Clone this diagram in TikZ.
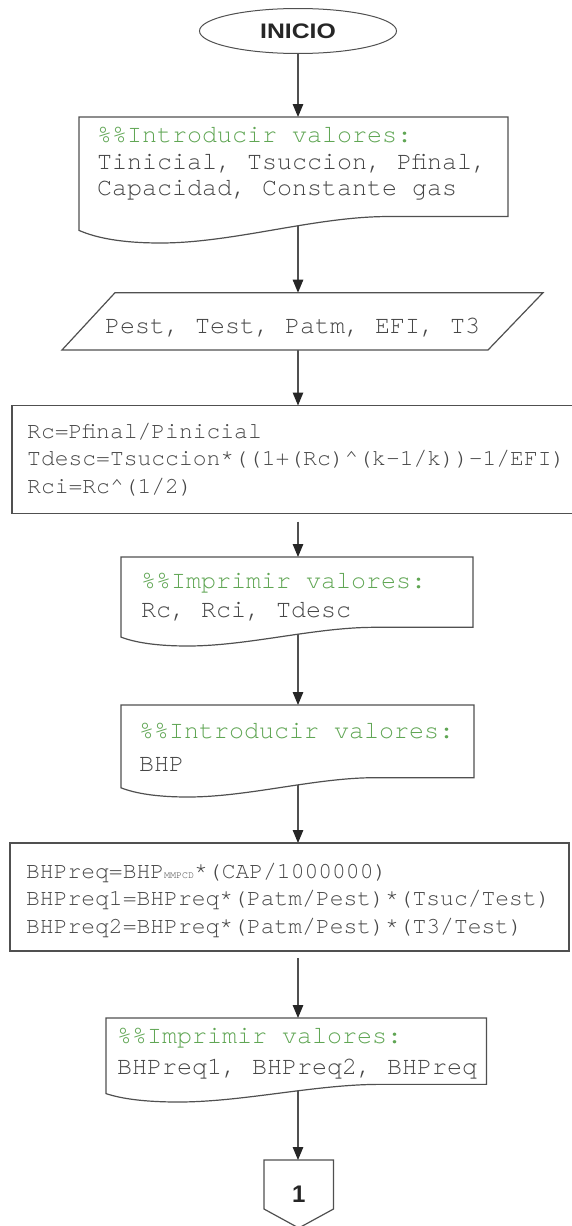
\documentclass[tikz,border=0pt]{standalone}
\usepackage{fontspec}
\usepackage{graphicx}
\setmonofont{TeX Gyre Cursor}
\newfontfamily\headsans{Liberation Sans}
\usetikzlibrary{arrows.meta,calc,shapes.geometric}

\pgfdeclarelayer{links}
\pgfdeclarelayer{frames}
\pgfsetlayers{links,frames,main}

\definecolor{ink}{RGB}{80,80,80}
\definecolor{code}{RGB}{70,70,70}
\definecolor{remark}{RGB}{96,166,84}

\tikzset{
  region/.style={inner sep=0pt, outer sep=0pt, draw=none},
  outline/.style={draw=ink, line width=1.2pt, fill=white, line join=miter},
  bigcode/.style={font=\fontsize{25}{28}\selectfont\ttfamily, text=code,
                  inner sep=0pt, anchor=base west},
  smallcode/.style={font=\fontsize{23}{27}\selectfont\ttfamily, text=code,
                    inner sep=0pt, anchor=base west},
  remarkline/.style={bigcode, text=remark},
  link/.style={draw=ink, line width=1.2pt,
               -{Triangle[length=13pt,width=10.5pt,color=black!85]}},
}

% Document symbol: box with a wavy lower edge, fitted to a region node
\newcommand\docframe[1]{%
  \path[outline] let \p1=(#1.north west), \p2=(#1.south east),
      \n1={\y1-\y2}, \n2={\x2-\x1} in
    (\x1,\y1) -- (\x2,\y1) -- (\x2,{\y2+0.21*\n1})
    -- ({\x1+0.72*\n2},{\y2+0.21*\n1})
    .. controls ({\x1+0.55*\n2},{\y2+0.21*\n1}) and ({\x1+0.36*\n2},\y2) .. ({\x1+0.19*\n2},\y2)
    .. controls ({\x1+0.10*\n2},\y2) and ({\x1+0.04*\n2},{\y2+0.04*\n1}) .. (\x1,{\y2+0.10*\n1})
    -- cycle;}

\begin{document}
\begin{tikzpicture}[x=1pt,y=-1pt]
\begin{pgfonlayer}{links}
  \fill[white] (0,0) rectangle (571,1226);
\end{pgfonlayer}
\useasboundingbox (0,0) rectangle (571,1226);

\coordinate (spine) at (298,0);

% start terminal
\node[ellipse, draw=ink, line width=1pt, fill=white, minimum width=197pt,
      minimum height=45pt, inner sep=0pt, text=black!85,
      font=\headsans\bfseries\fontsize{21}{21}\selectfont]
      (start) at (298,31) {\scalebox{1.18}[1]{INICIO}};

% input of the initial data
\node[region, minimum width=429pt, minimum height=126pt] (d1) at (293.5,180) {};
\node[remarkline] (d1a) at (97,142) {\%\%Introducir valores:};
\node[bigcode] (d1b) at (97,169) {Tinicial, Tsuccion, Pfinal,};
\node[bigcode] (d1c) at (97,195) {Capacidad, Constante gas};

% data
\node[region, minimum width=481pt, minimum height=57.3pt] (par) at (302.5,321.35) {};
\node[bigcode] (part) at (105,333) {Pest, Test, Patm, EFI, T3};

% compression ratio and discharge temperature
\node[region, outline, minimum width=566pt, minimum height=108pt] (r2) at (295,459.5) {};
\node[smallcode] (r2a) at (27,438) {Rc=Pfinal/Pinicial};
\node[smallcode] (r2b) at (27,465.5) {Tdesc=Tsuccion*((1+(Rc)\textasciicircum(k-1/k))-1/EFI)};
\node[smallcode] (r2c) at (27,493) {Rci=Rc\textasciicircum(1/2)};

% print
\node[region, minimum width=352pt, minimum height=89pt] (d3) at (297,601.5) {};
\node[remarkline] (d3a) at (141,588) {\%\%Imprimir valores:};
\node[bigcode] (d3b) at (141,617) {Rc, Rci, Tdesc};

% input BHP
\node[region, minimum width=353pt, minimum height=92pt] (d4) at (297.5,751) {};
\node[remarkline] (d4a) at (139,738) {\%\%Introducir valores:};
\node[bigcode] (d4b) at (139,771) {BHP};

% required power
\node[region, outline, minimum width=559pt, minimum height=108pt] (r5) at (289.5,897) {};
\node[smallcode] (r5a) at (26,878) {BHPreq=BHP{\fontsize{10}{10}\selectfont MMPCD}*(CAP/1000000)};
\node[smallcode] (r5b) at (26,905.5) {BHPreq1=BHPreq*(Patm/Pest)*(Tsuc/Test)};
\node[smallcode] (r5c) at (26,933) {BHPreq2=BHPreq*(Patm/Pest)*(T3/Test)};

% print results
\node[region, minimum width=380.5pt, minimum height=84pt] (d6) at (296.25,1060) {};
\node[remarkline] (d6a) at (117,1043) {\%\%Imprimir valores:};
\node[bigcode] (d6b) at (117,1074) {BHPreq1, BHPreq2, BHPreq};

% off-page connector
\node[region, minimum width=69.5pt, minimum height=68pt, text=black!85,
      font=\headsans\bfseries\fontsize{24}{24}\selectfont] (p1) at (298.75,1194) {1};

\begin{pgfonlayer}{frames}
  \docframe{d1}
  \docframe{d3}
  \docframe{d4}
  \docframe{d6}
  \path[outline] (par.south west) -- ($(par.north west)+(53,0)$)
    -- (par.north east) -- ($(par.south east)+(-55,0)$) -- cycle;
  \path[outline] (p1.north west) -- (p1.north east) -- ($(p1.north east)+(0,49)$)
    -- (p1.south) -- ($(p1.north west)+(0,49)$) -- cycle;
\end{pgfonlayer}

\begin{pgfonlayer}{links}
  \draw[link] (spine |- start.south) -- (spine |- d1.north);
  \draw[link] (spine |- d1.center) -- (spine |- par.north);
  \draw[link] (spine |- par.south) -- (spine |- r2.north);
  \draw[link, shorten <=8pt] (spine |- r2.south) -- (spine |- d3.north);
  \draw[link] (spine |- d3.center) -- (spine |- d4.north);
  \draw[link] (spine |- d4.center) -- (spine |- r5.north);
  \draw[link, shorten <=7pt] (spine |- r5.south) -- (spine |- d6.north);
  \draw[link] (spine |- d6.center) -- (spine |- p1.north);
\end{pgfonlayer}
\end{tikzpicture}
\end{document}
